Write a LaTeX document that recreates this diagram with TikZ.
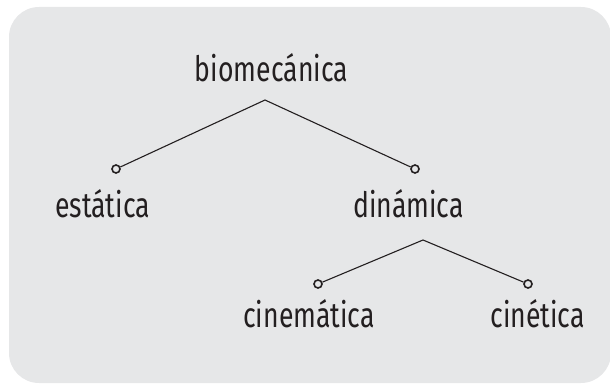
\documentclass[tikz,border=0pt]{standalone}
\usepackage{fontspec}
\newfontfamily\treefont[FakeStretch=0.76]{Fira Sans}
\definecolor{panel}{HTML}{E6E7E8}
\definecolor{ink}{HTML}{231F20}
\begin{document}
\begin{tikzpicture}[x=1pt,y=-1pt,
  term/.style={anchor=base, inner sep=0pt, text=ink, font=\treefont\fontsize{35}{38}\selectfont},
  joint/.style={circle, draw=ink, fill=panel, line width=1.6pt, minimum size=8pt, inner sep=0pt},
  branch/.style={draw=ink, line width=1.1pt}]
\useasboundingbox (0,0) rectangle (610,385);
\fill[panel, rounded corners=30pt] (9,7) rectangle (611,383);

% terms of the tree
\node[term] (bio) at (271.5,82) {biomecánica};
\node[term] (est) at (102.5,217) {estática};
\node[term] (din) at (408.5,217) {dinámica};
\node[term] (cinem) at (309,327) {cinemática};
\node[term] (cinet) at (537.5,327) {cinética};

% branch points and end joints
\coordinate (bioapex) at (265,100);
\coordinate (dinapex) at (423,240);
\node[joint] (jest) at (116,169) {};
\node[joint] (jdin) at (415,169) {};
\node[joint] (jcinem) at (318,284) {};
\node[joint] (jcinet) at (528,284) {};

\draw[branch] (jest) -- (bioapex) -- (jdin);
\draw[branch] (jcinem) -- (dinapex) -- (jcinet);
\end{tikzpicture}
\end{document}
